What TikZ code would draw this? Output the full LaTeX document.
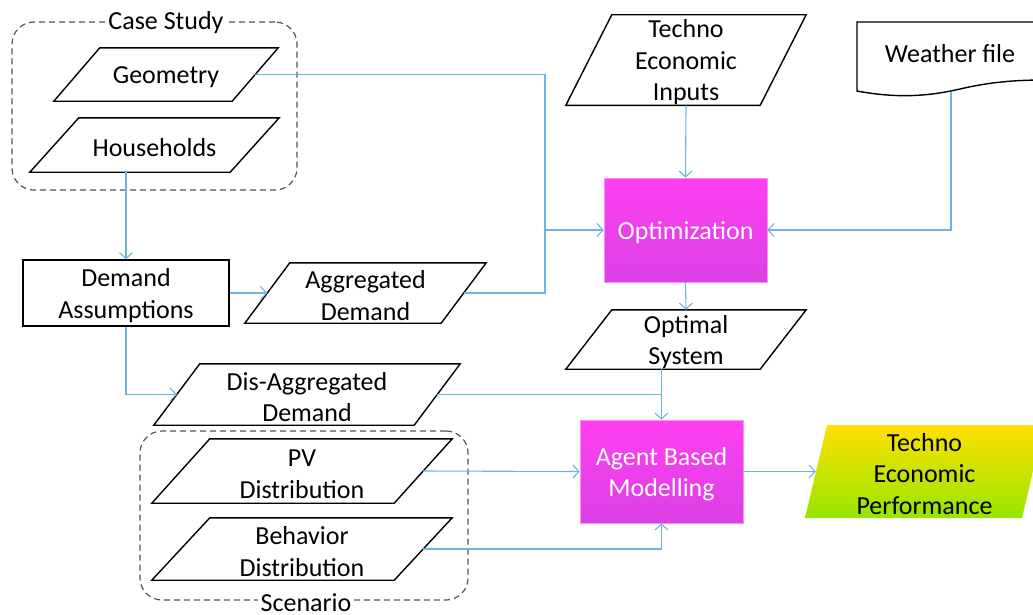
\documentclass[tikz,border=0pt]{standalone}
\usepackage{fontspec}
\setmainfont{Carlito}
\usepackage{tikz}
\usetikzlibrary{arrows.meta,positioning,calc}

\definecolor{linkblue}{RGB}{110,180,225}
\definecolor{magtop}{RGB}{255,64,240}
\definecolor{magbot}{RGB}{218,64,228}
\definecolor{perftop}{RGB}{255,224,0}
\definecolor{perfbot}{RGB}{150,230,0}
\definecolor{groupgray}{RGB}{85,85,85}

\newcommand{\topstrut}{\rule{0pt}{23pt}}

\begin{document}
\begin{tikzpicture}[
        x=1pt, y=-1pt,
        every node/.style={font=\fontsize{26}{31.5}\selectfont, align=center,
            execute at begin node={\topstrut}},
        border/.style={draw=black, line width=1.4pt, line join=miter},
        % parallelogram: node width is the width at mid height, #1 is half the slant
        data/.style={rectangle, inner sep=0pt,
            append after command={\pgfextra{\draw[border]
                ($(\tikzlastnode.north west)+(#1,0)$) --
                ($(\tikzlastnode.north east)+(#1,0)$) --
                ($(\tikzlastnode.south east)+(-#1,0)$) --
                ($(\tikzlastnode.south west)+(-#1,0)$) -- cycle;}}},
        proc/.style={rectangle, border, inner sep=0pt},
        model/.style={rectangle, top color=magtop, bottom color=magbot,
            draw=magtop!60, line width=0.6pt, text=white, inner sep=0pt,
            minimum width=163, minimum height=104},
        group/.style={rectangle, rounded corners=22pt, draw=groupgray,
            line width=1.2pt, dash pattern=on 6pt off 4pt, inner sep=0pt},
        grouptitle/.style={fill=white, inner xsep=3pt, inner ysep=0pt},
        line/.style={draw=linkblue, line width=1.1pt},
        link/.style={line, -{Straight Barb[length=6pt,width=13pt]}},
    ]
    \useasboundingbox (0,0) rectangle (1033,614);

    % groups
    \node[group, minimum width=285, minimum height=168] (casebox) at (154.5,106) {};
    \node[grouptitle] (casetitle) at (166,20) {Case Study};
    \node[group, minimum width=328, minimum height=169] (scenbox) at (304,515.5) {};
    \node[grouptitle] (scentitle) at (306,600) {Scenario};

    % inputs
    \node[data=23, minimum width=178, minimum height=53] (geo) at (166,74.5)
        {Geometry};
    \node[data=24.5, minimum width=200, minimum height=54] (hh) at (154.5,145)
        {Households};
    \node[proc, minimum width=206, minimum height=66] (dem) at (126,293)
        {\topstrut Demand\\Assumptions};
    \node[data=22.5, minimum width=196, minimum height=60] (aggr) at (365.5,293)
        {\topstrut Aggregated\\Demand};
    \node[data=23, minimum width=260, minimum height=61] (dis) at (307,394.5)
        {\topstrut Dis-Aggregated\\Demand};
    \node[data=29, minimum width=242, minimum height=64] (pv) at (302,471)
        {\topstrut PV\\Distribution};
    \node[data=29, minimum width=242, minimum height=62] (beh) at (302,549)
        {\topstrut Behavior\\Distribution};
    \node[data=23, minimum width=194, minimum height=90] (inp) at (686,60)
        {\topstrut Techno\\Economic\\Inputs};

    % weather file (document shape)
    \node[minimum width=188, minimum height=70, inner sep=0pt] (weather)
        at (951,56.5) {};
    \node (weathertext) at (950,51) {Weather file};
    \draw[border] (1045,22) -- (857,22) -- (857,91)
        .. controls (895,98) and (925,97) .. (960,89)
        .. controls (990,82) and (1015,80) .. (1045,80);

    % models
    \node[model] (opt) at (685.5,230) {Optimization};
    \node[data=23, minimum width=194, minimum height=59] (optsys) at (686,339.5)
        {\topstrut Optimal\\System};
    \node[model, minimum height=103] (abm) at (661.5,471.5)
        {\topstrut Agent Based\\Modelling};

    % result, shaded parallelogram
    \coordinate (perfc) at (924.5,471.5);
    \shade[top color=perftop, bottom color=perfbot]
        ($(perfc)+(-97.5,-46.5)$) -- ($(perfc)+(119.5,-46.5)$) --
        ($(perfc)+(97.5,46.5)$) -- ($(perfc)+(-119.5,46.5)$) -- cycle;
    \node[rectangle, inner sep=0pt, minimum width=217, minimum height=93]
        (perf) at (perfc) {\topstrut Techno\\Economic\\Performance};

    % connectors
    \coordinate (bus) at (545,230);
    \draw[line] (geo.east) -| (bus);
    \draw[line] (aggr.east) -| (bus);
    \draw[link] (bus) -- (opt.west);
    \draw[link] (hh.south -| dem.north) -- (dem.north);
    \draw[link] (dem.east) -- (aggr.west);
    \draw[link] (dem.south) |- (dis.west);
    \draw[link] (inp.south) -- (opt.north);
    \draw[link] (weather.south) |- (opt.east);
    \draw[link] (opt.south) -- (optsys.north);
    \draw[link] (optsys.south -| abm.north) -- (abm.north);
    \draw[line] (dis.east) -- (dis.east -| abm.north);
    \draw[link] (pv.east) -- (abm.west);
    \draw[link] (beh.east) -| (abm.south);
    \draw[link] (abm.east) -- (perf.west);
\end{tikzpicture}
\end{document}
